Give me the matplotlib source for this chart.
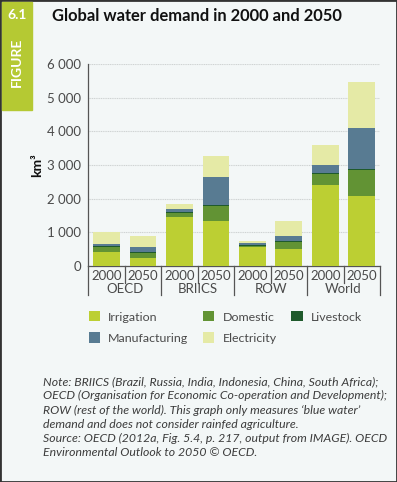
import numpy as np
import matplotlib.pyplot as plt
from matplotlib.patches import Rectangle
from matplotlib.lines import Line2D

years = ["2000", "2050", "2000", "2050", "2000", "2050", "2000", "2050"]
groups = ["OECD", "BRIICS", "ROW", "World"]
sectors = ["Irrigation", "Domestic", "Livestock", "Manufacturing", "Electricity"]
colors = ["#bccf33", "#629334", "#1f5a2c", "#587b92", "#e5eaa6"]

# stacked segment values, km3
irrigation = [410, 240, 1460, 1320, 545, 505, 2400, 2065]
domestic = [150, 150, 120, 470, 50, 200, 340, 795]
livestock = [25, 30, 30, 20, 20, 20, 30, 30]
manufacturing = [70, 145, 90, 830, 60, 170, 230, 1200]
electricity = [345, 320, 140, 640, 70, 435, 585, 1380]

note = ("Note: BRIICS (Brazil, Russia, India, Indonesia, China, South Africa);\n"
        "OECD (Organisation for Economic Co-operation and Development);\n"
        "ROW (rest of the world). This graph only measures \u2018blue water\u2019\n"
        "demand and does not consider rainfed agriculture.\n"
        "Source: OECD (2012a, Fig. 5.4, p. 217, output from IMAGE). OECD\n"
        "Environmental Outlook to 2050 \u00a9 OECD.")

plt.rcParams["font.family"] = ["Lato", "DejaVu Sans"]
bg = "#f3f7f7"
grey = "#4a4a4a"

fig = plt.figure(figsize=(3.97, 4.82), dpi=100, facecolor=bg)
W, H = 397, 482

# frame and green side strip
fig.patches.append(Rectangle((0, 0), 1, 1, transform=fig.transFigure,
                             fill=False, edgecolor="#333333", linewidth=2))
fig.patches.append(Rectangle((2 / W, 1 - 110 / H), 30 / W, 108 / H,
                             transform=fig.transFigure, color="#b5c933", zorder=1))
fig.text(17 / W, 1 - 15 / H, "6.1", color="white", fontsize=10, fontweight="bold",
         ha="center", va="center")
fig.text(17 / W, 1 - 62 / H, "FIGURE", color="white", fontsize=10, fontweight="bold",
         ha="center", va="center", rotation=90)
fig.text(52 / W, 1 - 16 / H, "Global water demand in 2000 and 2050", fontsize=11.9,
         fontweight="bold", color="#111111", ha="left", va="center")

ax = fig.add_axes([88.3 / W, 1 - 265.7 / H, (380 - 88.3) / W, (265.7 - 64.3) / H])
ax.set_facecolor(bg)
x = np.arange(len(years))
data = [irrigation, domestic, livestock, manufacturing, electricity]
bottom = np.zeros(len(years))
for vals, name, c in zip(data, sectors, colors):
    ax.bar(x, vals, width=0.735, bottom=bottom, color=c, label=name, zorder=3)
    bottom += np.array(vals)

ax.set_xlim(-0.5, 7.5)
ax.set_ylim(0, 6000)
ax.set_yticks(np.arange(0, 6001, 1000))
ax.set_yticklabels([f"{v:,}".replace(",", " ") for v in range(0, 6001, 1000)])
ax.tick_params(axis="y", length=0, pad=5, labelsize=9.5, labelcolor=grey)
ax.set_xticks([])
ax.yaxis.grid(True, color="#cfd3d3", linewidth=0.8, linestyle=(0, (1, 0.6)), zorder=0)
for s in ["top", "right"]:
    ax.spines[s].set_visible(False)
ax.spines["left"].set_color("#555555")
ax.spines["bottom"].set_color("#555555")
ax.spines["left"].set_linewidth(0.9)
ax.spines["bottom"].set_linewidth(0.9)
ax.set_ylabel("km\u00b3", fontsize=10, fontweight="bold", color="#111111", labelpad=3)

# category labels and separators below axis
trans = ax.get_xaxis_transform()
for i, y in enumerate(years):
    ax.text(i, -0.052, y, transform=trans, ha="center", va="center",
            fontsize=9.5, color=grey)
for j, g in enumerate(groups):
    ax.text(2 * j + 0.5, -0.115, g, transform=trans, ha="center", va="center",
            fontsize=9.5, color=grey)
for k in range(9):
    xs = k - 0.5
    depth = -0.145 if k % 2 == 0 else -0.085
    ax.add_line(Line2D([xs, xs], [0, depth], transform=trans, color="#555555",
                       linewidth=0.9, clip_on=False))

handles, labels = ax.get_legend_handles_labels()
order = [0, 3, 1, 4, 2]
fig.legend([handles[i] for i in order], [labels[i] for i in order],
           ncol=3, loc="upper left", bbox_to_anchor=(78 / W, 1 - 300 / H),
           frameon=False, fontsize=8.9, labelcolor=grey, handlelength=0.9,
           handleheight=0.9, handletextpad=0.65, columnspacing=1.2,
           labelspacing=0.8)

fig.text(43 / W, 1 - 376 / H, note, fontsize=8.85, style="italic", color="#3c3c3c",
         ha="left", va="top", linespacing=1.36)

fig.savefig("out.png", dpi=100, facecolor=bg)
